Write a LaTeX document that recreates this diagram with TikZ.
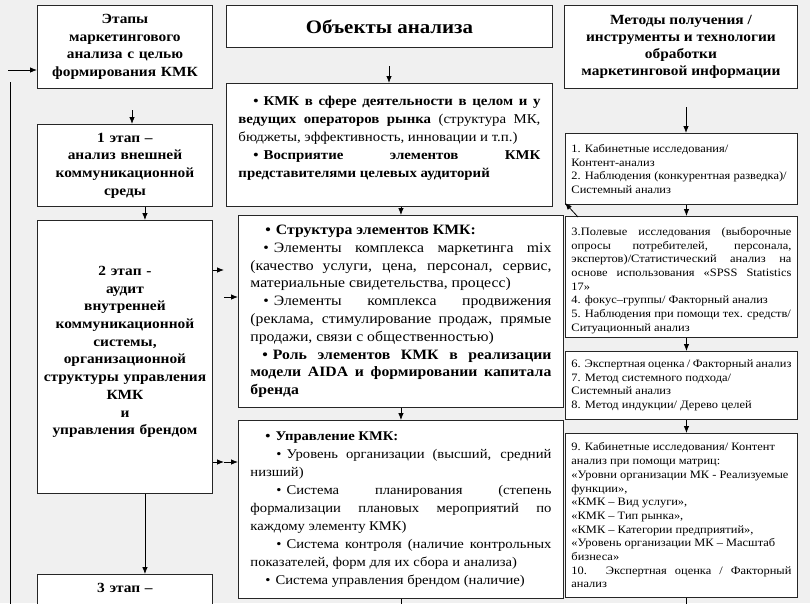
\documentclass[tikz,border=0pt]{standalone}
\usepackage{fontspec}
\setmainfont{Liberation Serif}[FakeStretch=1.1]
\usepackage{tikz}
\usetikzlibrary{arrows.meta,positioning,calc}
\hyphenpenalty=10000
\exhyphenpenalty=10000
\newcommand{\pbul}[1]{\hspace*{#1}•\hspace{5pt}}

\begin{document}
\begin{tikzpicture}[
    x=1pt, y=-1pt,
    >=Latex,
    box/.style={draw=black!85, line width=0.9pt, fill=white, anchor=north west, inner ysep=0pt, align=center},
    stagebox/.style={box, minimum width=175pt, text width=167pt, inner xsep=4pt, font=\bfseries\fontsize{14}{17.7}\selectfont},
    headbox/.style={box, font=\bfseries\fontsize{14}{17}\selectfont},
    objbox/.style={box, minimum width=325pt, text width=301pt, inner xsep=12pt, align=justify, font=\fontsize{13.3}{18}\selectfont},
    methbox/.style={box, minimum width=232pt, text width=220pt, inner xsep=6pt, align=justify, font=\fontsize{11.3}{13.7}\selectfont},
    arr/.style={-{Latex[length=7pt,width=5.5pt]}, line width=0.8pt},
    wire/.style={line width=0.8pt}
]
\useasboundingbox (0,0) rectangle (810,603);
\fill[black!6] (0,0) rectangle (810,603);
\clip (0,0) rectangle (810,603);

\node[stagebox, minimum height=83pt] (st0) at (37,5) {Этапы\\ маркетингового\\ анализа с целью\\ формирования КМК};
\node[stagebox, minimum height=82pt] (st1) at (37,124) {1 этап –\\ анализ внешней\\ коммуникационной\\ среды};
\node[stagebox, minimum height=273pt, text height=10pt, text depth=173pt] (st2) at (37,220) {2 этап -\\ аудит\\ внутренней\\ коммуникационной\\ системы,\\ организационной\\ структуры управления\\ КМК\\ и\\ управления брендом};
\node[stagebox, minimum height=76pt, text height=10pt, text depth=50pt] (st3) at (37,574) {3 этап –};

\node[box, minimum width=326pt, minimum height=42pt, font=\bfseries\fontsize{19}{22}\selectfont] (ob0) at (226,5) {Объекты анализа};
\node[objbox, minimum width=326pt, text width=302pt, minimum height=123pt, text height=10pt, text depth=89pt, font=\fontsize{13.5}{18}\selectfont] (ob1) at (226,83) {{\bfseries\pbul{15pt}КМК в сфере деятельности в целом и у\linebreak
ведущих операторов рынка} (структура МК,\linebreak
бюджеты, эффективность, инновации и т.п.)\\
{\bfseries\pbul{15pt}Восприятие элементов КМК\linebreak
представителями целевых аудиторий}};
\node[objbox, minimum height=192pt, font=\fontsize{14.3}{17.8}\selectfont] (ob2) at (238,215) {{\bfseries\pbul{15pt}Структура элементов КМК:}\\
\pbul{13pt}Элементы комплекса маркетинга mix\linebreak
(качество услуги, цена, персонал, сервис,\linebreak
материальные свидетельства, процесс)\\
\pbul{13pt}Элементы комплекса продвижения\linebreak
(реклама, стимулирование продаж, прямые\linebreak
продажи, связи с общественностью)\\
{\bfseries\pbul{12pt}Роль элементов КМК в реализации\linebreak
модели AIDA и формировании капитала\linebreak
бренда}};
\node[objbox, minimum height=178pt] (ob3) at (238,420) {{\bfseries\pbul{15pt}Управление КМК:}\\
\pbul{26pt}Уровень организации (высший, средний\linebreak
низший)\\
\pbul{26pt}Система планирования (степень\linebreak
формализации плановых мероприятий по\linebreak
каждому элементу КМК)\\
\pbul{26pt}Система контроля (наличие контрольных\linebreak
показателей, форм для их сбора и анализа)\\
\pbul{15pt}Система управления брендом (наличие)};

\node[headbox, minimum width=233pt, minimum height=83pt] (me0) at (564,5) {Методы получения /\\ инструменты и технологии\\ обработки\\ маркетинговой информации};
\node[methbox, minimum height=71pt] (me1) at (565,133) {1. Кабинетные исследования/\\
Контент-анализ\\
2. Наблюдения (конкурентная разведка)/\\
Системный анализ};
\node[methbox, minimum height=121pt, text height=8pt, text depth=91pt] (me2) at (565,216) {3.Полевые исследования (выборочные\linebreak
опросы потребителей, персонала,\linebreak
экспертов)/Статистический анализ на\linebreak
основе использования «SPSS Statistics\linebreak
17»\\
4. фокус–группы/ Факторный анализ\\
5. Наблюдения при помощи тех. средств/\\
Ситуационный анализ};
\node[methbox, minimum height=68pt] (me3) at (565,351) {6. Экспертная оценка / Факторный анализ\\
7. Метод системного подхода/\\
Системный анализ\\
8. Метод индукции/ Дерево целей};
\node[methbox, minimum height=164pt] (me4) at (565,433) {9. Кабинетные исследования/ Контент\\
анализ при помощи матриц:\\
«Уровни организации МК - Реализуемые\\
функции»,\\
«КМК – Вид услуги»,\\
«КМК – Тип рынка»,\\
«КМК – Категории предприятий»,\\
«Уровень организации МК – Масштаб\\
бизнеса»\\
10. Экспертная оценка / Факторный\linebreak
анализ};

\coordinate (in0) at (8,70);
\coordinate (bk0) at (10,82);
\coordinate (bk1) at (10,610);
\coordinate (s01) at (132,110);
\coordinate (s0m) at (389,66);
\coordinate (s0r) at (686,107);
\coordinate (j1) at (224,270);
\coordinate (j2) at (224,297);
\coordinate (j3) at (224,462);
\draw[arr] (in0) -- (in0 -| st0.west);
\draw[wire] (bk0) -- (bk1);
\draw[arr] (s01) -- (s01 |- st1.north);
\draw[arr] ([xshift=20pt]st1.south) -- ([xshift=20pt]st2.north);
\draw[arr] ([xshift=20pt]st2.south) -- ([xshift=20pt]st3.north);
\draw[arr] (st2.east |- j1) -- (j1);
\draw[arr] (j2) -- (j2 -| ob2.west);
\draw[arr] (st2.east |- j3) -- (j3);
\draw[arr] (j3) -- (j3 -| ob3.west);
\draw[arr] (s0m) -- (s0m |- ob1.north);
\draw[arr] (ob1.south -| ob2.north) -- (ob2.north);
\draw[arr] (ob2.south) -- (ob3.north);
\draw[wire] (ob3.south) -- ++(0,15);
\draw[arr] (s0r) -- (s0r |- me1.north);
\draw[arr] ([xshift=5pt]me1.south) -- ([xshift=5pt]me2.north);
\draw[arr] ([xshift=5pt]me2.south) -- ([xshift=5pt]me3.north);
\draw[arr] ([xshift=5pt]me3.south) -- ([xshift=5pt]me4.north);
\draw[wire] ([xshift=5pt]me4.south) -- ++(0,15);
\draw[arr] ([xshift=13pt,yshift=-1pt]me2.north west) -- ([yshift=2pt]me1.south west);
\end{tikzpicture}
\end{document}
